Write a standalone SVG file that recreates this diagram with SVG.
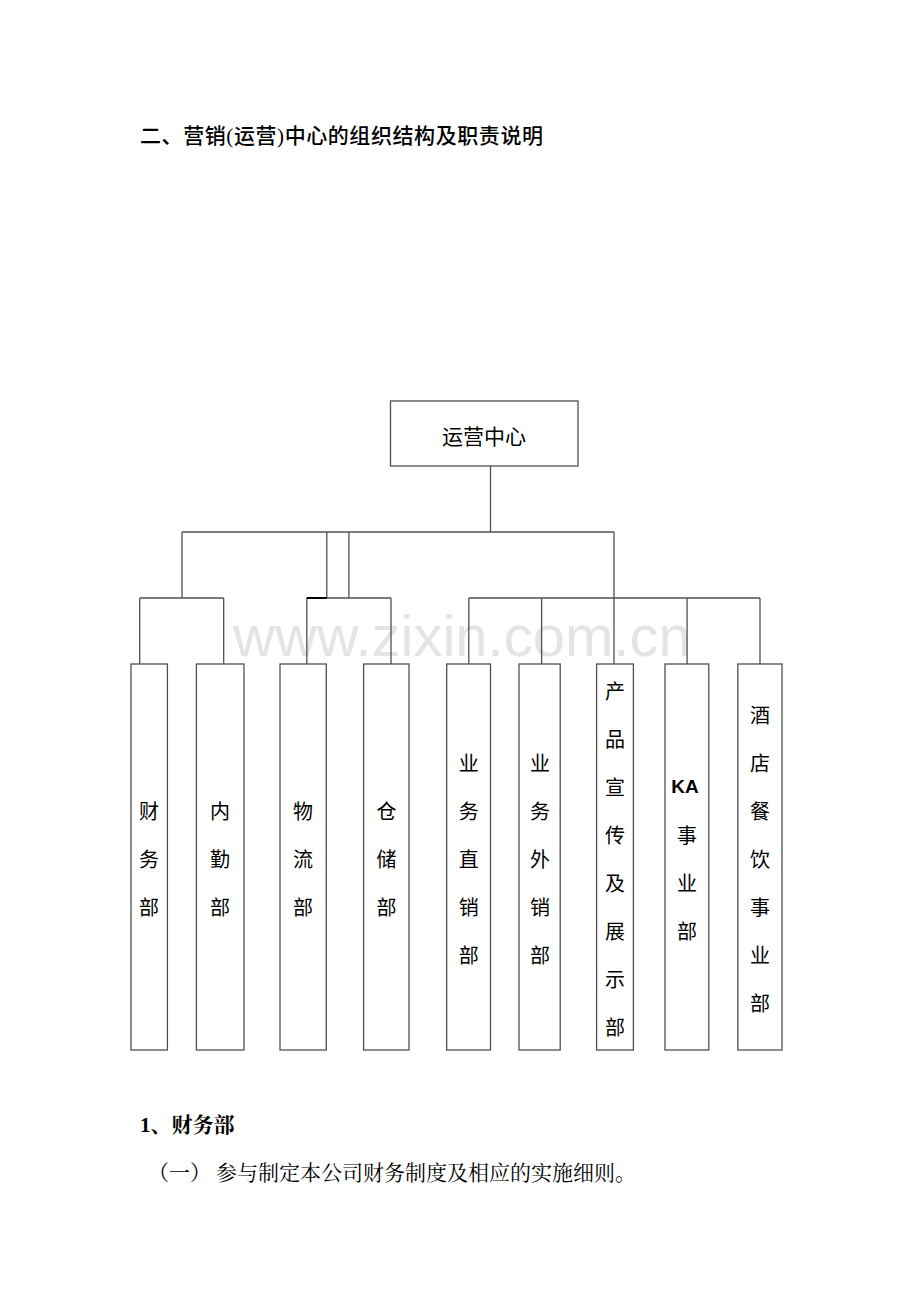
<svg xmlns="http://www.w3.org/2000/svg" width="920" height="1302" viewBox="0 0 920 1302">
<style>
.t{font-family:"Liberation Serif","Noto Serif CJK SC","Noto Sans CJK SC",serif;font-size:21px;fill:#000}
.h{font-family:"Liberation Serif","Noto Sans CJK SC",sans-serif;font-size:21px;fill:#000;font-weight:500}
.b{font-weight:bold}
.v{font-family:"Noto Sans CJK SC",sans-serif;font-size:20px;fill:#000;text-anchor:middle;dominant-baseline:central}
.box{fill:#fff;stroke:#505050;stroke-width:1.3}
.ln{fill:none;stroke:#505050;stroke-width:1.3}
.wm{font-family:"Liberation Sans",Arial,sans-serif;font-size:58px;fill:#e4e4e4}
</style>
<rect width="920" height="1302" fill="#fff"/>
<text class="h" x="140" y="143" textLength="403" lengthAdjust="spacing">二、营销(运营)中心的组织结构及职责说明</text>
<text class="wm" x="233" y="656">www.zixin.com.cn</text>
<g id="connectors">
<path class="ln" d="M490.5,466V532M182,532H614M182,532V598M326.8,532V598M348.9,532V598M614,532V664"/>
<path class="ln" d="M139.7,598H223.7M139.7,598V664M223.7,598V664"/>
<path class="ln" d="M306.8,598H391M306.8,598V664M391,598V664"/>
<path d="M306.8,598H326.8" stroke="#000" stroke-width="2" fill="none"/>
<path class="ln" d="M468.8,598H760M468.8,598V664M541.6,598V664M687.1,598V664M760,598V664"/>
</g>
<g id="n0"><rect class="box" x="390.5" y="401" width="187.5" height="65"/><text class="v" x="484" y="435" style="font-size:21px">运营中心</text></g>
<g id="n1"><rect class="box" x="131" y="664" width="36.4" height="386"/>
<text class="v" x="149" y="810">财</text><text class="v" x="149" y="858">务</text><text class="v" x="149" y="906">部</text></g>
<g id="n2"><rect class="box" x="196.4" y="664" width="47.6" height="386"/>
<text class="v" x="220" y="810">内</text><text class="v" x="220" y="858">勤</text><text class="v" x="220" y="906">部</text></g>
<g id="n3"><rect class="box" x="280" y="664" width="46.3" height="386"/>
<text class="v" x="303" y="810">物</text><text class="v" x="303" y="858">流</text><text class="v" x="303" y="906">部</text></g>
<g id="n4"><rect class="box" x="363.6" y="664" width="45.4" height="386"/>
<text class="v" x="386.5" y="810">仓</text><text class="v" x="386.5" y="858">储</text><text class="v" x="386.5" y="906">部</text></g>
<g id="n5"><rect class="box" x="446.7" y="664" width="43.8" height="386"/>
<text class="v" x="468.8" y="762">业</text><text class="v" x="468.8" y="810">务</text><text class="v" x="468.8" y="858">直</text><text class="v" x="468.8" y="906">销</text><text class="v" x="468.8" y="954">部</text></g>
<g id="n6"><rect class="box" x="519" y="664" width="41.2" height="386"/>
<text class="v" x="540" y="762">业</text><text class="v" x="540" y="810">务</text><text class="v" x="540" y="858">外</text><text class="v" x="540" y="906">销</text><text class="v" x="540" y="954">部</text></g>
<g id="n7"><rect class="box" x="596.6" y="664" width="36.8" height="386"/>
<text class="v" x="615" y="690">产</text><text class="v" x="615" y="738">品</text><text class="v" x="615" y="786">宣</text><text class="v" x="615" y="834">传</text><text class="v" x="615" y="882">及</text><text class="v" x="615" y="930">展</text><text class="v" x="615" y="978">示</text><text class="v" x="615" y="1026">部</text></g>
<g id="n8"><rect class="box" x="665" y="664" width="43.8" height="386"/>
<text class="v" x="685" y="786" style="font-family:'Liberation Sans',Arial,sans-serif;font-weight:bold;font-size:19px">KA</text><text class="v" x="687" y="834">事</text><text class="v" x="687" y="882">业</text><text class="v" x="687" y="930">部</text></g>
<g id="n9"><rect class="box" x="737.8" y="664" width="44.2" height="386"/>
<text class="v" x="760" y="714">酒</text><text class="v" x="760" y="762">店</text><text class="v" x="760" y="810">餐</text><text class="v" x="760" y="858">饮</text><text class="v" x="760" y="906">事</text><text class="v" x="760" y="954">业</text><text class="v" x="760" y="1002">部</text></g>
<text class="t b" x="140" y="1132">1、财务部</text>
<text class="t" x="148" y="1180">（一）</text>
<text class="t" x="216" y="1180">参与制定本公司财务制度及相应的实施细则。</text>
</svg>
